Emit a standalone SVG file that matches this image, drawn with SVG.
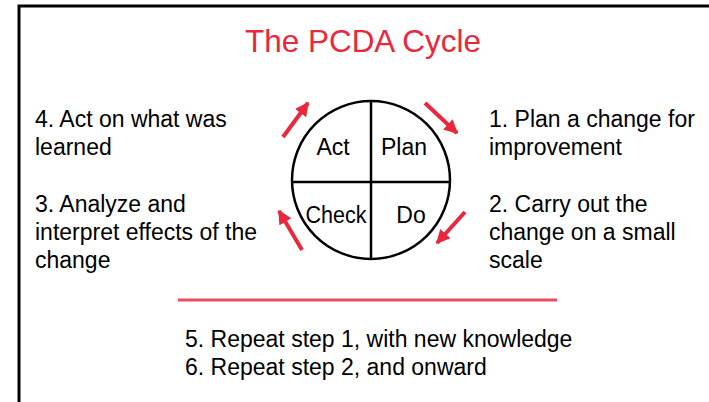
<svg xmlns="http://www.w3.org/2000/svg" width="709" height="402" viewBox="0 0 709 402">
<style>
.t{font-family:"Liberation Sans",Arial,sans-serif;font-size:23px;fill:#000}
.q{font-family:"Liberation Sans",Arial,sans-serif;font-size:23px;fill:#000;text-anchor:middle}
.arr{stroke:#e8283c;stroke-width:4;fill:none;marker-end:url(#ah)}
</style>
<defs>
<marker id="ah" viewBox="0 0 10 10" refX="9" refY="5" markerWidth="3.5" markerHeight="3.5" orient="auto" markerUnits="strokeWidth">
<path d="M0,0 L10,5 L0,10 z" fill="#e8283c"/>
</marker>
</defs>
<rect width="709" height="402" fill="#fff"/>
<path d="M19,402 V6 H709" fill="none" stroke="#000" stroke-width="3"/>
<text x="363" y="52" font-family="Liberation Sans, Arial, sans-serif" font-size="31.5" fill="#e8283c" text-anchor="middle" textLength="236" lengthAdjust="spacingAndGlyphs">The PCDA Cycle</text>
<g id="cycle">
<circle cx="371" cy="180" r="79" fill="none" stroke="#000" stroke-width="2.5"/>
<line x1="371" y1="101" x2="371" y2="259" stroke="#000" stroke-width="2.5"/>
<line x1="292" y1="182" x2="450" y2="182" stroke="#000" stroke-width="2.5"/>
</g>
<g id="act"><text class="q" x="333" y="155">Act</text></g>
<g id="plan"><text class="q" x="404" y="155">Plan</text></g>
<g id="check"><text class="q" x="336" y="223" textLength="61" lengthAdjust="spacingAndGlyphs">Check</text></g>
<g id="do"><text class="q" x="411" y="223">Do</text></g>
<g id="connectors">
<line class="arr" x1="425" y1="103" x2="457" y2="133"/>
<line class="arr" x1="465" y1="212" x2="437" y2="243"/>
<line class="arr" x1="302" y1="250" x2="279" y2="211"/>
<line class="arr" x1="283" y1="137" x2="308" y2="103"/>
</g>
<g id="step4"><text class="t" x="35" y="127">4. Act on what was</text><text class="t" x="35" y="155">learned</text></g>
<g id="step3"><text class="t" x="35" y="212">3. Analyze and</text><text class="t" x="35" y="240">interpret effects of the</text><text class="t" x="35" y="268">change</text></g>
<g id="step1"><text class="t" x="489" y="127">1. Plan a change for</text><text class="t" x="489" y="155">improvement</text></g>
<g id="step2"><text class="t" x="489" y="212">2. Carry out the</text><text class="t" x="489" y="240">change on a small</text><text class="t" x="489" y="268">scale</text></g>
<line x1="178" y1="300" x2="557" y2="300" stroke="#ea4d5e" stroke-width="3"/>
<g id="steps56"><text class="t" x="185" y="347">5. Repeat step 1, with new knowledge</text><text class="t" x="185" y="375">6. Repeat step 2, and onward</text></g>
</svg>
